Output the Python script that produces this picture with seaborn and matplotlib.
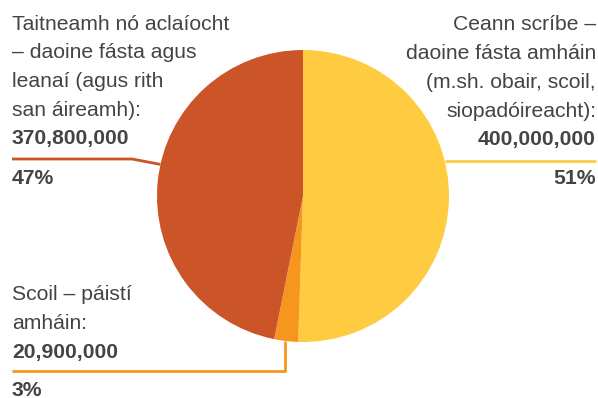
import matplotlib
matplotlib.use("Agg")
import matplotlib.pyplot as plt
import seaborn as sns
import numpy as np

# Data
catagoir = [
    "Ceann scríbe –\ndaoine fásta amháin\n(m.sh. obair, scoil,\nsiopadóireacht):",
    "Scoil – páistí\namháin:",
    "Taitneamh nó aclaíocht\n– daoine fásta agus\nleanaí (agus rith\nsan áireamh):",
]
luachanna = [400000000, 20900000, 370800000]
cetadain = ["51%", "3%", "47%"]
dathanna = ["#FFCC41", "#F7961F", "#CB5428"]

sns.set_theme(style="white")
plt.rcParams["font.family"] = ["Liberation Sans", "DejaVu Sans"]

W, H = 598, 398
fig = plt.figure(figsize=(W / 100, H / 100), dpi=100)
ax = fig.add_axes([0, 0, 1, 1])

# pixel coords -> data coords (y up)
def py(y):
    return H - y

cx, cy, r = 303, 196, 146
ax.pie(luachanna, colors=dathanna, startangle=90, counterclock=False,
       center=(cx, py(cy)), radius=r, frame=True,
       wedgeprops=dict(linewidth=0))
ax.set_xlim(0, W)
ax.set_ylim(0, H)
ax.set_aspect("equal")
ax.axis("off")

text_col = "#444444"
fs = 15.2
lh = 28.7

def edge(angle):
    a = np.deg2rad(angle)
    return cx + r * np.cos(a), py(cy) + r * np.sin(a)

# Ceann scríbe (right)
ex, ey = edge(14)
ax.plot([ex, 596], [ey, ey], color=dathanna[0], lw=2, solid_capstyle="butt")
lines = catagoir[0].split("\n")
for i, t in enumerate(lines):
    ax.text(596, py(25 + i * lh), t, ha="right", va="center", fontsize=fs, color=text_col)
ax.text(596, py(25 + 4 * lh), f"{luachanna[0]:,}", ha="right", va="center",
        fontsize=fs, color=text_col, fontweight="bold")
ax.text(596, py(179), cetadain[0], ha="right", va="center",
        fontsize=fs, color=text_col, fontweight="bold")

# Taitneamh (left)
ex, ey = edge(167.5)
ax.plot([12, 132, ex], [py(159), py(159), ey], color=dathanna[2], lw=2, solid_capstyle="butt")
lines = catagoir[2].split("\n")
for i, t in enumerate(lines):
    ax.text(12, py(24 + i * lh), t, ha="left", va="center", fontsize=fs, color=text_col)
ax.text(12, py(24 + 4 * lh), f"{luachanna[2]:,}", ha="left", va="center",
        fontsize=fs, color=text_col, fontweight="bold")
ax.text(12, py(178), cetadain[2], ha="left", va="center",
        fontsize=fs, color=text_col, fontweight="bold")

# Scoil (bottom left)
ex, ey = edge(-97)
ax.plot([ex, ex, 12], [ey, py(371), py(371)], color=dathanna[1], lw=2, solid_capstyle="butt")
lines = catagoir[1].split("\n")
for i, t in enumerate(lines):
    ax.text(12, py(295 + i * lh), t, ha="left", va="center", fontsize=fs, color=text_col)
ax.text(12, py(295 + 2 * lh), f"{luachanna[1]:,}", ha="left", va="center",
        fontsize=fs, color=text_col, fontweight="bold")
ax.text(12, py(390), cetadain[1], ha="left", va="center",
        fontsize=fs, color=text_col, fontweight="bold")

fig.savefig("out.png", dpi=100)
